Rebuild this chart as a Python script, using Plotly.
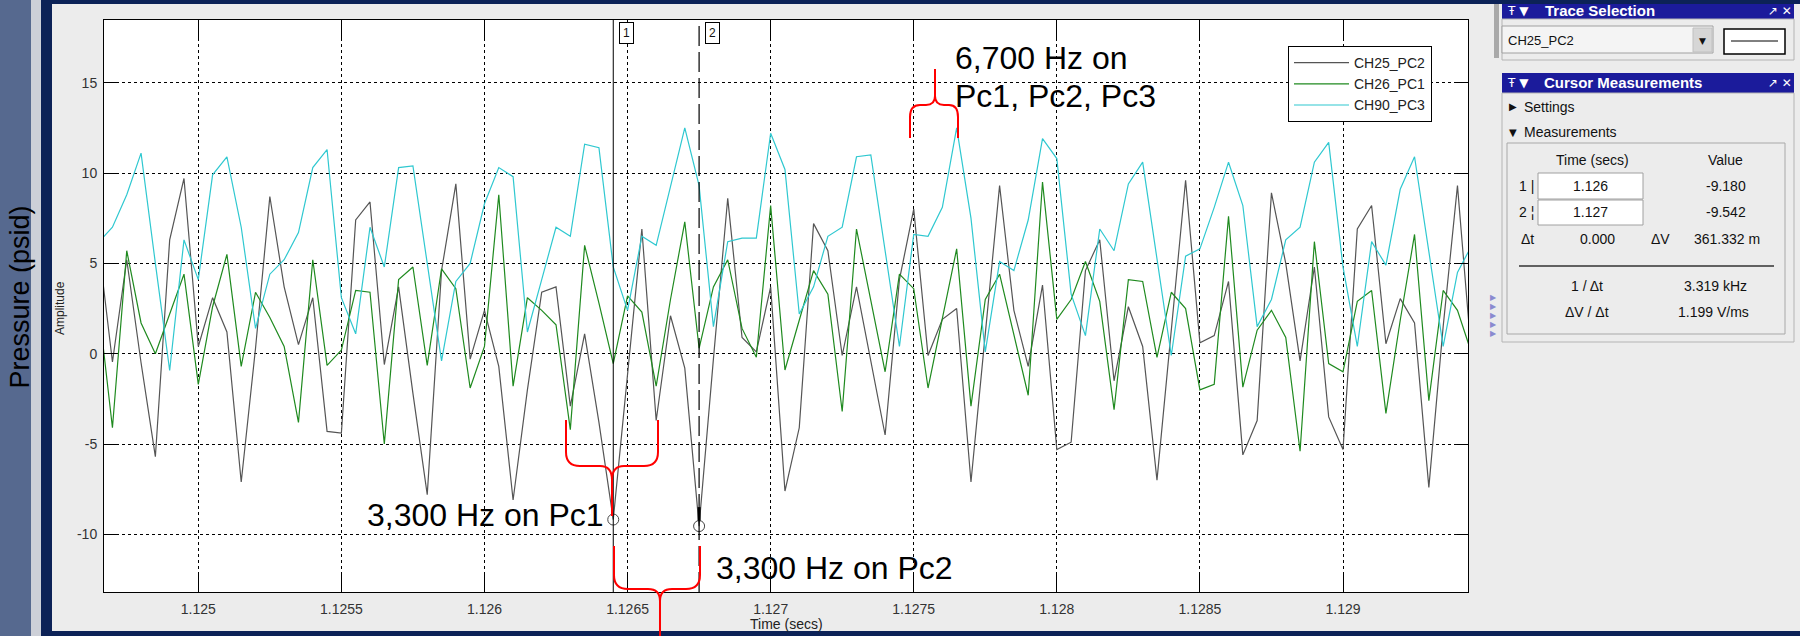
import plotly.graph_objects as go

# ---------------- data ----------------
T_START = 1.12465      # time of first sample (s)
T_STEP = 0.00005       # sample interval (s)

CH25_PC2 = [6.2, -0.46, 5.2, -0.5, -5.7, 6.3, 9.7, 0.4, 3.1, 1.2,
            -7.1, 0.3, 8.7, 3.7, 0.5, 3.1, -4.3, -4.4, 7.4, 8.4,
            -0.6, 3.7, -2.2, -7.8, 4.6, 9.4, -0.3, 2.4, -0.7, -8.1,
            -2.0, 3.4, 3.7, -2.9, 1.1, -3.8, -9.18, -1.0, 6.9, -3.7,
            2.1, -0.8, -9.542, -0.3, 8.6, 0.9, 0.1, 3.7, -7.6, -4.1,
            7.2, 5.7, -0.1, 3.7, -0.4, -4.5, 4.1, 8.0, -0.1, 1.9,
            2.5, -7.1, 1.1, 9.3, 2.4, -0.7, 3.8, -5.3, -4.9, 4.6,
            6.3, -1.5, 2.6, 0.4, -7.0, 1.3, 9.6, 0.6, 1.0, 4.0,
            -5.6, -3.7, 8.9, 5.0, -0.4, 4.8, -3.5, -5.3, 6.9, 8.2,
            0.55, 3.05, 1.7, -7.4, 1.5, 9.3, -0.3]

CH26_PC1 = [2.85, -4.1, 5.7, 1.7, 0.0, 2.2, 4.4, -1.7, 2.6, 5.5,
            -0.7, 3.4, 2.0, 0.4, -3.8, 5.2, -0.65, 0.2, 3.5, 3.4,
            -5.0, 4.1, 4.8, -0.65, 4.7, 3.6, -1.9, 0.4, 8.8, -1.8,
            3.1, 2.4, 1.6, -4.2, 6.0, 2.8, -0.55, 3.2, 2.3, -1.8,
            3.0, 7.3, 0.3, 3.7, 5.2, 1.4, -0.2, 8.2, -0.9, 1.85,
            4.6, 3.3, -3.2, 6.9, 3.0, -1.0, 4.4, 3.6, -1.9, 1.9,
            5.8, -2.9, 3.0, 4.4, 1.0, -2.3, 9.5, 1.9, 3.0, 5.1,
            2.9, -3.1, 4.1, 4.0, -0.2, 3.4, 2.5, -2.0, -1.7, 7.6,
            -1.85, 1.3, 2.4, 0.9, -5.4, 6.2, -0.55, -1.0, 2.9, 3.5,
            -3.3, 1.85, 6.6, -2.6, 3.5, 2.4, 0.0]

CH90_PC3 = [6.15, 7.0, 8.8, 11.1, 5.0, -0.93, 6.3, 4.1, 9.9, 10.9,
            7.0, 1.4, 4.4, 5.2, 6.7, 10.3, 11.3, 3.1, 1.1, 7.0,
            4.8, 10.3, 10.4, 5.0, -0.4, 4.0, 5.0, 8.3, 10.3, 9.8,
            1.2, 4.1, 7.0, 6.5, 11.6, 11.4, 4.8, 2.4, 6.5, 6.0,
            9.3, 12.5, 9.3, 1.5, 6.2, 6.4, 6.4, 12.2, 10.2, 2.2,
            3.7, 6.5, 7.0, 10.9, 11.0, 5.6, 0.4, 6.6, 6.5, 8.1,
            12.5, 7.5, 0.1, 5.1, 4.6, 7.4, 11.9, 10.8, 3.3, 1.0,
            6.9, 5.7, 9.4, 10.6, 5.2, -0.1, 5.4, 5.8, 8.1, 10.6,
            8.2, 1.5, 3.0, 6.3, 7.0, 10.6, 11.7, 4.8, 0.4, 6.2,
            4.9, 9.1, 10.9, 5.6, 0.4, 4.5, 6.0]

SERIES_NAMES = ["CH25_PC2", "CH26_PC1", "CH90_PC3"]
SERIES_COLORS = ["#555555", "#1f8a1f", "#2fc8d0"]

CURSOR_TIMES = [1.12645, 1.12675]
CURSOR_VALUES = [-9.180, -9.542]
CURSOR_LABELS = ["1", "2"]

X_TICKS = [1.125, 1.1255, 1.126, 1.1265, 1.127, 1.1275, 1.128, 1.1285, 1.129]
X_TICK_TEXT = ["1.125", "1.1255", "1.126", "1.1265", "1.127", "1.1275", "1.128", "1.1285", "1.129"]
Y_TICKS = [-10, -5, 0, 5, 10, 15]
Y_TICK_TEXT = ["-10", "-5", "0", "5", "10", "15"]

MEAS_TIMES = ["1.126", "1.127"]
MEAS_VALUES = ["-9.180", "-9.542"]
DELTA_T = "0.000"
DELTA_V = "361.332 m"
INV_DT = "3.319 kHz"
DV_DT = "1.199 V/ms"

# ---------------- layout helpers (pixel -> paper) ----------------
W, H = 1800, 636
L, R, T, B = 104, 1468, 20, 592
FONT = "Liberation Sans, Arial, sans-serif"


def px(x):
    return (x - L) / (R - L)


def py(y):
    return (B - y) / (B - T)


def rect(x0, y0, x1, y1, fill, line=None, lw=1, layer="above"):
    return dict(type="rect", xref="paper", yref="paper",
                x0=px(x0), x1=px(x1), y0=py(y1), y1=py(y0),
                fillcolor=fill, layer=layer,
                line=dict(color=line if line else fill, width=lw if line else 0))


def seg(x0, y0, x1, y1, color, lw=1, dash="solid"):
    return dict(type="line", xref="paper", yref="paper",
                x0=px(x0), x1=px(x1), y0=py(y0), y1=py(y1),
                line=dict(color=color, width=lw, dash=dash))


def path(segs, color="#ff0000", lw=2):
    parts = []
    for cmd, pts in segs:
        parts.append(cmd + " " + " ".join(f"{px(x):.5f},{py(y):.5f}" for x, y in pts))
    return dict(type="path", xref="paper", yref="paper", path=" ".join(parts),
                line=dict(color=color, width=lw))


def ann(text, x, y, size=14, color="#111111", xanchor="left", yanchor="middle", **kw):
    return dict(text=text, x=px(x), y=py(y), xref="paper", yref="paper",
                showarrow=False, xanchor=xanchor, yanchor=yanchor,
                font=dict(size=size, color=color, family=kw.pop("family", FONT)), **kw)


# ---------------- figure ----------------
fig = go.Figure()
for name, vals, color in zip(SERIES_NAMES, [CH25_PC2, CH26_PC1, CH90_PC3], SERIES_COLORS):
    fig.add_trace(go.Scatter(x0=T_START, dx=T_STEP, y=vals, mode="lines", name=name,
                             legendgroup=name, line=dict(color=color, width=1.2)))

fig.add_trace(go.Scatter(x=CURSOR_TIMES, y=CURSOR_VALUES, mode="markers", showlegend=False,
                         marker=dict(symbol="circle-open", size=11, color="#444444",
                                     line=dict(width=1, color="#444444"))))

shapes = []
NAVY = "#0c2257"
# background frame
shapes += [
    rect(0, 0, 31, 636, "#56698f", layer="below"),
    rect(31, 0, 41, 636, "#cdd0d8", layer="below"),
    rect(41, 0, 52, 636, NAVY, layer="below"),
    rect(41, 0, 1800, 4, NAVY, layer="below"),
    rect(41, 631, 1800, 636, NAVY, layer="below"),
    rect(1494, 4, 1499, 58, "#a9a9a9", layer="below"),
]

# cursors
shapes.append(dict(type="line", xref="x", yref="paper", x0=CURSOR_TIMES[0], x1=CURSOR_TIMES[0],
                   y0=0, y1=1, line=dict(color="black", width=1)))
shapes.append(dict(type="line", xref="x", yref="paper", x0=CURSOR_TIMES[1], x1=CURSOR_TIMES[1],
                   y0=0, y1=1, line=dict(color="black", width=1.2, dash="20px,6px")))
shapes.append(dict(type="line", xref="x", yref="y", x0=CURSOR_TIMES[1], x1=CURSOR_TIMES[1],
                   y0=CURSOR_VALUES[1] + 1.05, y1=CURSOR_VALUES[1] + 0.3,
                   line=dict(color="black", width=3)))

# red braces
shapes.append(path([("M", [(566, 420)]), ("L", [(566, 452)]), ("Q", [(566, 466), (580, 466)]),
                    ("L", [(600, 466)]), ("Q", [(612, 466), (612, 480)]), ("L", [(612, 516)]),
                    ("M", [(612, 480)]), ("Q", [(612, 466), (624, 466)]), ("L", [(644, 466)]),
                    ("Q", [(658, 466), (658, 452)]), ("L", [(658, 420)])]))
shapes.append(path([("M", [(614, 546)]), ("L", [(614, 575)]), ("Q", [(614, 589), (628, 589)]),
                    ("L", [(648, 589)]), ("Q", [(660, 589), (660, 601)]), ("L", [(660, 636)]),
                    ("M", [(660, 601)]), ("Q", [(660, 589), (672, 589)]), ("L", [(686, 589)]),
                    ("Q", [(700, 589), (700, 575)]), ("L", [(700, 546)])]))
shapes.append(path([("M", [(910, 138)]), ("L", [(910, 117)]), ("Q", [(910, 105), (920, 105)]),
                    ("L", [(926, 105)]), ("Q", [(935, 105), (935, 96)]), ("L", [(935, 69)]),
                    ("M", [(935, 96)]), ("Q", [(935, 105), (944, 105)]), ("L", [(949, 105)]),
                    ("Q", [(958, 105), (958, 117)]), ("L", [(958, 138)])]))

# right-hand panels
HDR = "#1b1b9b"
shapes += [
    rect(1502, 4, 1794, 19, HDR),
    rect(1502, 19, 1794, 60, "#ececec", "#b4b4b4"),
    rect(1502, 26, 1713, 53, "#f4f4f4", "#a0a0a0"),
    rect(1693, 28, 1712, 52, "#d6d6d6", "#c0c0c0"),
    rect(1724, 29, 1785, 54, "#ffffff", "#000000", 1.5),
    seg(1731, 41, 1778, 41, "#000000", 1),
    rect(1502, 73, 1794, 93, HDR),
    rect(1502, 93, 1794, 342, "#ececec", "#b4b4b4"),
    rect(1507, 143, 1785, 334, "#ececec", "#a8a8a8"),
    rect(1538, 173, 1643, 199, "#ffffff", "#a0a0a0"),
    rect(1538, 200, 1643, 225, "#ffffff", "#a0a0a0"),
    seg(1519, 266, 1774, 266, "#333333", 1.5),
]

annotations = []
# chart texts
annotations.append(ann("Pressure (psid)", 19.5, 297, size=27, color="#000000",
                       xanchor="center", textangle=-90))
annotations.append(ann("Amplitude", 60, 308, size=12, color="#222222", xanchor="center", textangle=-90))
annotations.append(ann("Time (secs)", 786, 624, size=14, color="#222222", xanchor="center"))
annotations.append(ann("6,700 Hz on", 953, 58, size=32, color="#000000"))
annotations.append(ann("Pc1, Pc2, Pc3", 953, 96, size=32, color="#000000"))
annotations.append(ann("3,300 Hz on Pc1", 606, 515, size=32, color="#000000", xanchor="right"))
annotations.append(ann("3,300 Hz on Pc2", 714, 568, size=32, color="#000000"))
for t, lab in zip(CURSOR_TIMES, CURSOR_LABELS):
    annotations.append(dict(text=lab, x=t, y=1, xref="x", yref="paper", showarrow=False,
                            xanchor="left", yanchor="top", xshift=6, yshift=-2,
                            bgcolor="white", bordercolor="black", borderwidth=1, borderpad=3,
                            font=dict(size=12, color="#111111", family=FONT)))

# panel texts
annotations += [
    ann("Ŧ ▼", 1505, 11, size=12, color="white", family="DejaVu Sans"),
    ann("<b>Trace Selection</b>", 1543, 11, size=15, color="white"),
    ann("↗ ✕", 1766, 11, size=12, color="white", family="DejaVu Sans"),
    ann("CH25_PC2", 1506, 40, size=13),
    ann("▼", 1702, 41, size=9, xanchor="center", family="DejaVu Sans"),
    ann("Ŧ ▼", 1505, 83, size=12, color="white", family="DejaVu Sans"),
    ann("<b>Cursor Measurements</b>", 1542, 83, size=15, color="white"),
    ann("↗ ✕", 1766, 83, size=12, color="white", family="DejaVu Sans"),
    ann("▶", 1507, 107, size=10, family="DejaVu Sans"),
    ann("Settings", 1522, 107, size=14),
    ann("▼", 1507, 132, size=10, family="DejaVu Sans"),
    ann("Measurements", 1522, 132, size=14),
    ann("Time (secs)", 1592, 160, size=14, xanchor="center"),
    ann("Value", 1725, 160, size=14, xanchor="center"),
    ann("1 |", 1517, 186, size=14),
    ann(MEAS_TIMES[0], 1590, 186, size=14, xanchor="center"),
    ann(MEAS_VALUES[0], 1726, 186, size=14, xanchor="center"),
    ann("2 ¦", 1517, 212, size=14),
    ann(MEAS_TIMES[1], 1590, 212, size=14, xanchor="center"),
    ann(MEAS_VALUES[1], 1726, 212, size=14, xanchor="center"),
    ann("Δt", 1519, 239, size=14),
    ann(DELTA_T, 1598, 239, size=14, xanchor="center"),
    ann("ΔV", 1660, 239, size=14, xanchor="center"),
    ann(DELTA_V, 1727, 239, size=14, xanchor="center"),
    ann("1 / Δt", 1587, 286, size=14, xanchor="center"),
    ann(INV_DT, 1715, 286, size=14, xanchor="center"),
    ann("ΔV / Δt", 1587, 312, size=14, xanchor="center"),
    ann(DV_DT, 1713, 312, size=14, xanchor="center"),
]
for yy in [297, 306, 315, 324, 333]:
    annotations.append(ann("▶", 1488, yy, size=8, color="#8a8ad0", family="DejaVu Sans"))

axis_common = dict(showline=True, linecolor="black", linewidth=1, mirror="ticks",
                   ticks="inside", tickcolor="black", tickwidth=1,
                   showgrid=True, gridcolor="black", gridwidth=1, griddash="3px,3px",
                   zeroline=False, tickfont=dict(size=14, color="#333333", family=FONT))

fig.update_layout(
    width=W, height=H,
    margin=dict(l=L, r=W - R, t=T, b=H - B, autoexpand=False),
    paper_bgcolor="#ececec", plot_bgcolor="white",
    xaxis=dict(range=[1.1246705, 1.1294368], tickmode="array", tickvals=X_TICKS,
               ticktext=X_TICK_TEXT, ticklen=18, ticklabelstandoff=4, **axis_common),
    yaxis=dict(range=[-13.19, 18.47], tickmode="array", tickvals=Y_TICKS,
               ticktext=Y_TICK_TEXT, ticklen=12, ticklabelstandoff=3, **axis_common),
    legend=dict(x=px(1288), y=py(46), xanchor="left", yanchor="top",
                bgcolor="white", bordercolor="black", borderwidth=1,
                font=dict(size=14, color="#222222", family=FONT),
                itemwidth=55, tracegroupgap=0),
    shapes=shapes,
    annotations=annotations,
    showlegend=True,
)

fig.write_html("out.html", config={"displayModeBar": False},
               post_script="document.body.style.margin='0px';document.body.style.overflow='hidden';")
